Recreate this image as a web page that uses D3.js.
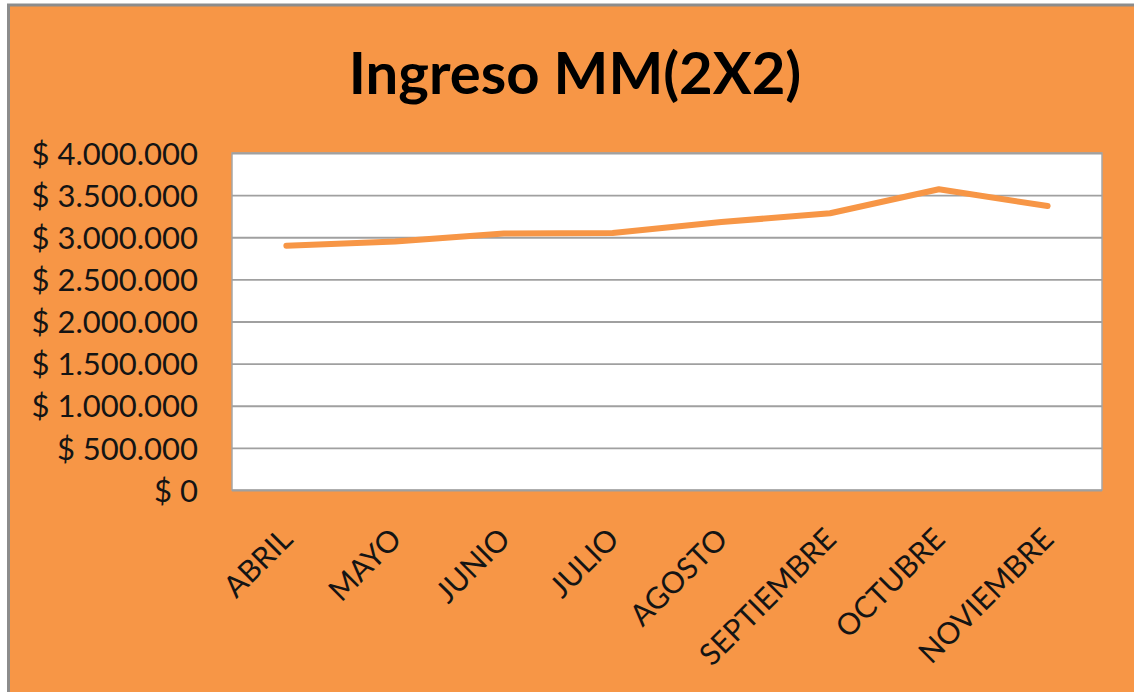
<!DOCTYPE html>
<html>
<head>
<meta charset="utf-8">
<script src="https://cdn.jsdelivr.net/npm/d3@7"></script>
<style>
  html, body { margin: 0; padding: 0; background: #ffffff; }
  svg { display: block; }
</style>
</head>
<body>
<svg id="chart" width="1134" height="692"></svg>
<script>
const title = "Ingreso MM(2X2)";
const categories = ["ABRIL", "MAYO", "JUNIO", "JULIO", "AGOSTO", "SEPTIEMBRE", "OCTUBRE", "NOVIEMBRE"];
const ingreso = [2900000, 2950000, 3045000, 3050000, 3180000, 3285000, 3570000, 3370000];
const yTicks = [0, 500000, 1000000, 1500000, 2000000, 2500000, 3000000, 3500000, 4000000];
const yTickLabels = ["$ 0", "$ 500.000", "$ 1.000.000", "$ 1.500.000", "$ 2.000.000", "$ 2.500.000", "$ 3.000.000", "$ 3.500.000", "$ 4.000.000"];

const orange = "#F79646";
const font = "Lato, 'Open Sans', sans-serif";
const svg = d3.select("#chart");

// chart area background with gray frame
svg.append("rect")
  .attr("x", 8.5).attr("y", 5)
  .attr("width", 1300).attr("height", 900)
  .attr("fill", orange)
  .attr("stroke", "#8C8C8C")
  .attr("stroke-width", 3);

const plot = { left: 232, right: 1102, top: 153, bottom: 490 };

const x = d3.scalePoint().domain(categories).range([plot.left, plot.right]).padding(0.5);
const y = d3.scaleLinear().domain([0, 4000000]).range([plot.bottom, plot.top]);

// plot area
svg.append("rect")
  .attr("x", plot.left).attr("y", plot.top)
  .attr("width", plot.right - plot.left).attr("height", plot.bottom - plot.top)
  .attr("fill", "#ffffff")
  .attr("stroke", "#A6A6A6")
  .attr("stroke-width", 1.5);

// gridlines
const grid = svg.append("g")
  .attr("transform", `translate(${plot.left},0)`)
  .call(d3.axisLeft(y).tickValues(yTicks).tickSize(-(plot.right - plot.left)).tickFormat(""));
grid.select(".domain").remove();
grid.selectAll(".tick line").attr("stroke", "#A0A0A0").attr("stroke-width", 1.8);

// y axis labels
const yAxis = svg.append("g")
  .attr("transform", `translate(${plot.left},0)`)
  .call(d3.axisLeft(y).tickValues(yTicks).tickSize(0).tickPadding(34)
    .tickFormat((d, i) => yTickLabels[i]));
yAxis.select(".domain").remove();
yAxis.selectAll("text")
  .attr("font-family", font)
  .attr("font-size", 31)
  .attr("fill", "#141414")
  .attr("dy", "0.36em");

// x axis labels (rotated)
const xAxis = svg.append("g");
xAxis.selectAll("text")
  .data(categories)
  .join("text")
  .attr("transform", d => `translate(${x(d) + 8},541) rotate(-45)`)
  .attr("text-anchor", "end")
  .attr("font-family", font)
  .attr("font-size", 30)
  .attr("fill", "#141414")
  .text(d => d);

// line
const line = d3.line()
  .x((d, i) => x(categories[i]))
  .y(d => y(d));
svg.append("path")
  .datum(ingreso)
  .attr("d", line)
  .attr("fill", "none")
  .attr("stroke", orange)
  .attr("stroke-width", 6)
  .attr("stroke-linecap", "round")
  .attr("stroke-linejoin", "round");

// title
svg.append("text")
  .attr("x", 575).attr("y", 94)
  .attr("text-anchor", "middle")
  .attr("font-family", font)
  .attr("font-weight", "bold")
  .attr("font-size", 58)
  .attr("fill", "#000000")
  .text(title);
</script>
</body>
</html>
